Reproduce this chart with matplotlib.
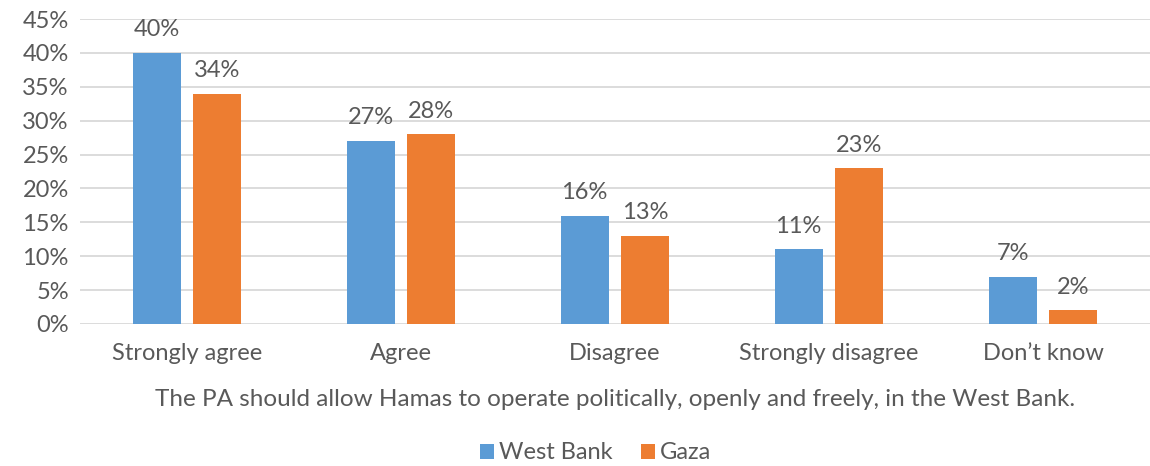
import numpy as np
import matplotlib.pyplot as plt
from matplotlib.ticker import FuncFormatter

plt.rcParams['font.family'] = ['Lato', 'DejaVu Sans']

categories = ['Strongly agree', 'Agree', 'Disagree', 'Strongly disagree', 'Don\u2019t know']
west_bank = [40, 27, 16, 11, 7]
gaza = [34, 28, 13, 23, 2]
blue = '#5B9BD5'
orange = '#ED7D31'
grey = '#595959'
fs = 17

fig = plt.figure(figsize=(11.5, 4.66), dpi=100)
ax = fig.add_axes([80 / 1150, 1 - 324 / 466, 1070 / 1150, 305 / 466])

x = np.arange(len(categories))
w = 0.224
off = 0.142
b1 = ax.bar(x - off, west_bank, w, color=blue, label='West Bank', zorder=3)
b2 = ax.bar(x + off, gaza, w, color=orange, label='Gaza', zorder=3)

for bars, vals in [(b1, west_bank), (b2, gaza)]:
    for b, v in zip(bars, vals):
        ax.annotate(f'{v}%', (b.get_x() + b.get_width() / 2, v), xytext=(0, 9),
                    textcoords='offset points', ha='center', va='bottom',
                    fontsize=fs, color=grey)

ax.set_xlim(-0.5, len(categories) - 0.5)
ax.set_ylim(0, 45)
ax.set_yticks(range(0, 46, 5))
ax.yaxis.set_major_formatter(FuncFormatter(lambda v, p: f'{int(v)}%'))
ax.grid(axis='y', color='#D9D9D9', linewidth=1.3, zorder=0)
ax.set_xticks(x)
ax.set_xticklabels(categories)
ax.tick_params(axis='both', length=0, labelsize=fs, labelcolor=grey)
ax.tick_params(axis='x', pad=14)
ax.tick_params(axis='y', pad=8)
for s in ax.spines.values():
    s.set_visible(False)

ax.set_xlabel('The PA should allow Hamas to operate politically, openly and freely, in the West Bank.',
              fontsize=17.5, color=grey, labelpad=18)

fig.legend(loc='lower center', bbox_to_anchor=(0.518, -0.04), ncol=2, frameon=False,
           fontsize=fs, labelcolor=grey, handlelength=0.6, handleheight=0.6,
           handletextpad=0.2, columnspacing=1.2)

fig.savefig('out.png', dpi=100)
